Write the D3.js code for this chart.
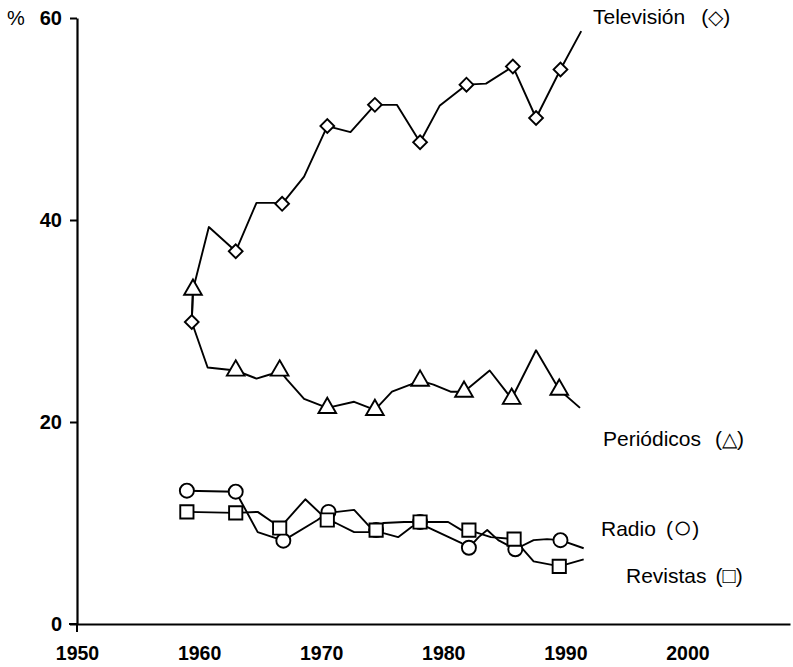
<!DOCTYPE html>
<html><head><meta charset="utf-8">
<script src="https://cdn.jsdelivr.net/npm/d3@7/dist/d3.min.js"></script>
<style>
html,body{margin:0;padding:0;background:#fff;}
svg{display:block;}
text{font-family:"Liberation Sans",Arial,Helvetica,sans-serif;fill:#000;}
</style></head>
<body>
<svg id="chart" width="793" height="667"></svg>
<script>
// ---- data ----
const xTicks = [1950, 1960, 1970, 1980, 1990, 2000];
const yTicks = [0, 20, 40, 60];

const tvYears  = [1959.4,1959.5,1960.8,1963.0,1964.7,1966.1,1966.8,1968.6,1970.5,1972.4,1974.4,1976.2,1978.1,1979.7,1981.9,1983.5,1985.7,1987.6,1989.6,1991.3];
const tvValues = [29.9,33.1,39.3,36.9,41.7,41.7,41.6,44.3,49.3,48.7,51.4,51.4,47.7,51.3,53.4,53.5,55.2,50.1,54.9,58.7];
const tvMarks  = [0,3,6,8,10,12,14,16,17,18];

const perYears  = [1959.5,1959.4,1960.7,1963.0,1964.7,1965.8,1966.6,1967.2,1968.6,1970.5,1972.7,1974.4,1975.8,1977.3,1978.1,1979.2,1980.6,1981.7,1983.8,1985.6,1987.6,1989.5,1991.2];
const perValues = [33.1,29.9,25.4,25.1,24.3,24.7,25.1,24.2,22.3,21.4,22.0,21.2,23.0,23.7,24.1,23.7,23.0,23.0,25.1,22.3,27.1,23.2,21.4];
const perMarks  = [0,3,6,9,11,14,17,19,21];

const radYears  = [1959.0,1963.0,1964.8,1966.9,1969.7,1970.6,1971.3,1972.7,1974.0,1974.5,1975.1,1976.3,1977.4,1978.1,1978.7,1981.5,1982.1,1982.9,1983.6,1984.5,1985.9,1987.4,1988.5,1989.6,1991.5];
const radValues = [13.2,13.1,9.1,8.25,10.3,11.1,11.1,11.3,9.6,9.3,9.0,8.6,9.6,10.1,9.6,8.0,7.55,8.6,9.3,8.3,7.4,8.3,8.4,8.3,7.5];
const radMarks  = [0,1,3,5,9,13,16,20,23];

const revYears  = [1959.0,1963.0,1964.8,1966.0,1966.6,1968.7,1970.5,1971.2,1972.7,1973.9,1974.5,1975.1,1976.8,1978.1,1978.7,1980.4,1981.5,1982.1,1983.9,1985.8,1987.4,1988.9,1989.5,1991.5];
const revValues = [11.1,11.0,11.1,10.1,9.5,12.35,10.3,10.0,9.1,9.1,9.3,10.0,10.1,10.1,10.1,10.1,9.3,9.3,8.6,8.4,6.2,5.85,5.7,6.4];
const revMarks  = [0,1,4,6,10,13,17,19,22];

const seriesLabels = ["Televisión", "Periódicos", "Radio", "Revistas"];
const seriesGlyphs = ["◇", "△", "○", "□"];

// ---- scales ----
const svg = d3.select("#chart");
const x = d3.scaleLinear().domain([1950, 2008.4]).range([77, 790]);
const y = d3.scaleLinear().domain([0, 60]).range([624, 18]);

// ---- axes ----
const yAxis = svg.append("g").attr("transform", "translate(77,0)")
  .call(d3.axisLeft(y).tickValues(yTicks).tickSize(7).tickSizeOuter(0).tickPadding(8).tickFormat(d3.format("d")));
yAxis.select(".domain").attr("stroke-width", 2.2);
yAxis.selectAll(".tick line").attr("stroke-width", 2);
yAxis.selectAll(".tick text").attr("font-size", 20).attr("font-weight", "bold");

const xAxis = svg.append("g").attr("transform", "translate(0,624)")
  .call(d3.axisBottom(x).tickValues(xTicks).tickSize(0).tickSizeOuter(0).tickPadding(22).tickFormat(d3.format("d")));
xAxis.select(".domain").attr("stroke-width", 2.2);
xAxis.selectAll(".tick text").attr("font-size", 19.5).attr("font-weight", "bold");

// small extensions of the axes past the origin
svg.append("line").attr("x1", x(1950)).attr("x2", x(1950)).attr("y1", y(0)).attr("y2", y(0) + 8)
  .attr("stroke", "#000").attr("stroke-width", 2);
svg.append("line").attr("x1", x(1950) - 8).attr("x2", x(1950)).attr("y1", y(0)).attr("y2", y(0))
  .attr("stroke", "#000").attr("stroke-width", 2);

svg.append("text").attr("x", 7).attr("y", y(60)).attr("dy", "0.35em")
  .attr("font-size", 20).text("%");

// ---- lines and markers ----
const line = d3.line().x(d => x(d[0])).y(d => y(d[1]));
const series = [
  {years: tvYears,  values: tvValues,  marks: tvMarks,  sym: "diamond"},
  {years: perYears, values: perValues, marks: perMarks, sym: "triangle"},
  {years: radYears, values: radValues, marks: radMarks, sym: "circle"},
  {years: revYears, values: revValues, marks: revMarks, sym: "square"}
];
series.forEach(s => {
  const pts = s.years.map((yr, i) => [yr, s.values[i]]);
  svg.append("path").datum(pts).attr("d", line)
    .attr("fill", "none").attr("stroke", "#000").attr("stroke-width", 1.9)
    .attr("stroke-linejoin", "round");
});
const symDefs = {
  diamond:  {type: d3.symbolSquare,   size: 95,  rot: 45},
  triangle: {type: d3.symbolTriangle, size: 135, rot: 0},
  circle:   {type: d3.symbolCircle,   size: 155, rot: 0},
  square:   {type: d3.symbolSquare,   size: 175, rot: 0}
};
series.forEach(s => {
  const def = symDefs[s.sym];
  const gen = d3.symbol().type(def.type).size(def.size);
  svg.append("g").selectAll("path").data(s.marks).join("path")
    .attr("d", gen)
    .attr("transform", i => `translate(${x(s.years[i])},${y(s.values[i])}) rotate(${def.rot})`)
    .attr("fill", "#fff").attr("stroke", "#000").attr("stroke-width", 1.9);
});

// ---- series labels ----
const labelPos = [[593, 24], [603, 446], [601, 536], [626, 583]];
const glyphSize = [20, 20, 32, 22];
const glyphGap = [16, 14, 10, 9];
seriesLabels.forEach((lab, i) => {
  const t = svg.append("text").attr("x", labelPos[i][0]).attr("y", labelPos[i][1]).attr("font-size", 21);
  t.append("tspan").text(lab);
  t.append("tspan").attr("dx", glyphGap[i]).text("(");
  t.append("tspan").attr("font-size", glyphSize[i]).attr("dy", i === 2 ? 2 : 0).text(seriesGlyphs[i]);
  t.append("tspan").attr("dy", i === 2 ? -2 : 0).text(")");
});
</script>
</body></html>
